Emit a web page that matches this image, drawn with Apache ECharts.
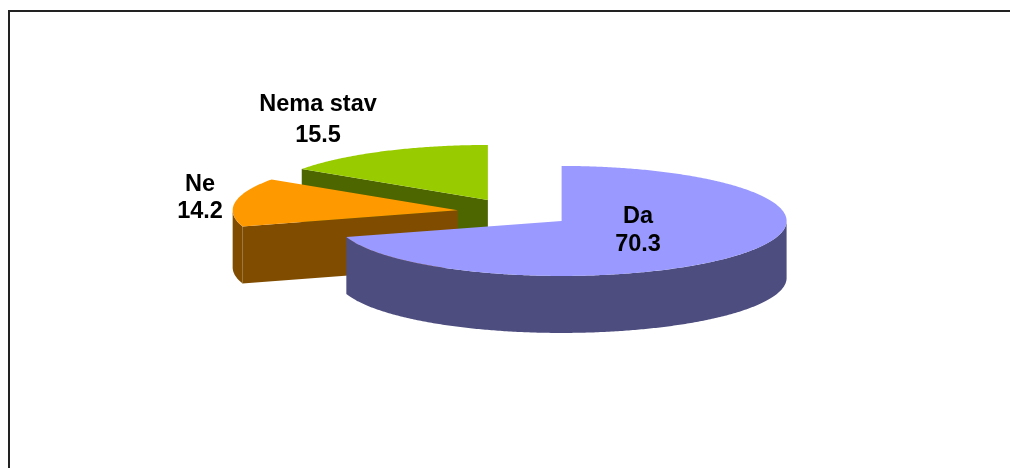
<!DOCTYPE html>
<html>
<head>
<meta charset="utf-8">
<script src="https://cdn.jsdelivr.net/npm/echarts@6/dist/echarts.min.js"></script>
<style>
  html, body { margin: 0; padding: 0; background: #fff; }
  #chart { width: 1010px; height: 468px; }
</style>
</head>
<body>
<div id="chart"></div>
<script>
// data
const categories = ['Da', 'Ne', 'Nema stav'];
const values = [70.3, 14.2, 15.5];
const valueLabels = ['70.3', '14.2', '15.5'];

// colours (top face / side walls)
const topColors = ['#9999FF', '#FF9900', '#99CC00'];
const sideColors = ['#4D4D80', '#804D00', '#4D6600'];

// layout of the tilted pie
const CX = 515, CY = 212.5;   // pie centre
const RX = 225, RY = 55;      // ellipse radii of the top face
const DEPTH = 57;             // thickness of the pie
const EXPLODE = 58;           // how far each slice is pulled out
// label block centres and line heights
const labelCenters = [[638, 231], [200, 198], [318, 120]];
const labelLineHeights = [28, 27, 31];

const total = values.reduce((a, b) => a + b, 0);

function renderItem(params, api) {
  const i = params.dataIndex;
  let before = 0;
  for (let j = 0; j < i; j++) before += values[j];
  const a0 = before / total * Math.PI * 2;
  const a1 = (before + api.value(1)) / total * Math.PI * 2;
  const mid = (a0 + a1) / 2;

  // exploded centre of this slice
  const cx = CX + EXPLODE * Math.sin(mid);
  const cy = CY - EXPLODE * (RY / RX) * Math.cos(mid);
  const pt = (a, dy) => [cx + RX * Math.sin(a), cy - RY * Math.cos(a) + (dy || 0)];
  const arc = (from, to, dy) => {
    const n = Math.max(2, Math.ceil((to - from) / 0.01));
    const out = [];
    for (let k = 0; k <= n; k++) out.push(pt(from + (to - from) * k / n, dy));
    return out;
  };

  const base = Math.round(cy * 10);
  const side = sideColors[i];
  const children = [];

  // flat cut faces, only the ones turned to the viewer
  if (Math.sin(a0) < -1e-6) {
    children.push({
      type: 'polygon', z2: base,
      shape: { points: [[cx, cy], pt(a0), pt(a0, DEPTH), [cx, cy + DEPTH]] },
      style: { fill: side }
    });
  }
  if (Math.sin(a1) > 1e-6) {
    children.push({
      type: 'polygon', z2: base,
      shape: { points: [[cx, cy], pt(a1), pt(a1, DEPTH), [cx, cy + DEPTH]] },
      style: { fill: side }
    });
  }

  // outer curved wall (front half only)
  const lo = Math.max(a0, Math.PI / 2), hi = Math.min(a1, Math.PI * 1.5);
  if (lo < hi) {
    const topEdge = arc(lo, hi, 0);
    const botEdge = arc(lo, hi, DEPTH).reverse();
    children.push({
      type: 'polygon', z2: base + 1,
      shape: { points: topEdge.concat(botEdge) },
      style: { fill: side }
    });
  }

  // top face
  children.push({
    type: 'polygon', z2: base + 2,
    shape: { points: [[cx, cy]].concat(arc(a0, a1, 0)) },
    style: { fill: topColors[i] }
  });

  // label
  children.push({
    type: 'text', z2: 9000,
    style: {
      text: categories[i] + '\n' + valueLabels[i],
      x: labelCenters[i][0], y: labelCenters[i][1],
      align: 'center', verticalAlign: 'middle',
      fontFamily: 'Arial, "Liberation Sans", sans-serif',
      fontWeight: 'bold', fontSize: 23.5,
      lineHeight: labelLineHeights[i],
      fill: '#000'
    }
  });

  return { type: 'group', children: children };
}

const chart = echarts.init(document.getElementById('chart'), null, { renderer: 'canvas' });
chart.setOption({
  animation: false,
  backgroundColor: '#fff',
  graphic: [{
    type: 'rect',
    shape: { x: 9, y: 11, width: 1200, height: 700 },
    style: { fill: 'none', stroke: '#222', lineWidth: 2 },
    silent: true
  }],
  series: [{
    type: 'custom',
    coordinateSystem: 'none',
    renderItem: renderItem,
    data: categories.map((c, i) => [i, values[i]])
  }]
});
</script>
</body>
</html>
